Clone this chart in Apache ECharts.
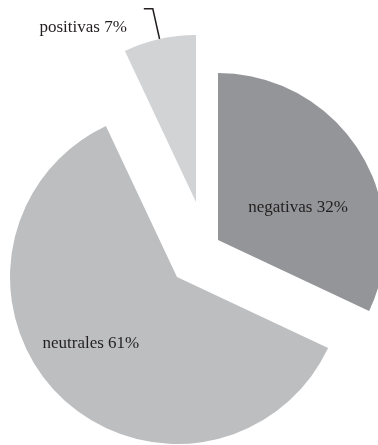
<!DOCTYPE html>
<html><head><meta charset="utf-8">
<script src="https://cdn.jsdelivr.net/npm/echarts@6/dist/echarts.min.js"></script>
<style>html,body{margin:0;padding:0;background:#fff}#c{width:378px;height:445px}</style>
</head><body><div id="c"></div>
<script>
const categories = ['negativas', 'neutrales', 'positivas'];
const values = [32, 61, 7];

const sliceColors = ['#939598', '#bcbec0', '#d1d3d4'];
const textColor = '#231f20';
const font = { fontFamily: 'Liberation Serif', fontSize: 17, color: textColor };
const R = 167;

function sliceSeries(idx, center, labelCfg, lineCfg, extra) {
  return Object.assign({
    type: 'pie',
    center: center,
    radius: [0, R],
    startAngle: 90,
    clockwise: true,
    silent: true,
    animation: false,
    avoidLabelOverlap: false,
    emphasis: { disabled: true },
    data: categories.map((name, i) => ({
      name: name,
      value: values[i],
      itemStyle: { color: i === idx ? sliceColors[i] : 'rgba(0,0,0,0)' },
      label: i === idx ? Object.assign({ show: true, formatter: '{b} {c}%' }, font, labelCfg) : { show: false },
      labelLine: i === idx && lineCfg ? lineCfg : { show: false }
    }))
  }, extra || {});
}

const chart = echarts.init(document.getElementById('c'), null, { renderer: 'canvas' });
chart.setOption({
  backgroundColor: '#ffffff',
  series: [
    sliceSeries(0, [218, 240], { position: 'inside' }, null, {
      labelLayout: function () { return { dx: 7, dy: 14 }; }
    }),
    sliceSeries(1, [177, 277], { position: 'inside' }, null, {
      labelLayout: function () { return { dx: -25, dy: 5 }; }
    }),
    sliceSeries(2, [196, 202], {
      position: 'outside',
      distanceToLabelLine: 17,
      formatter: ' \n \n{b} {c}%',
      lineHeight: 19
    }, {
      show: true,
      length: 31,
      length2: 9,
      smooth: false,
      lineStyle: { color: textColor, width: 1.5 }
    })
  ]
});
</script></body></html>
